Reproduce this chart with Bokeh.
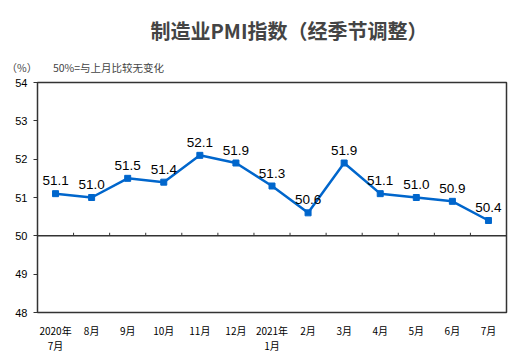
import numpy as np
from bokeh.plotting import figure
from bokeh.models import (ColumnDataSource, FixedTicker, Span, Title, Range1d)
from bokeh.embed import file_html
from bokeh.resources import INLINE
from bokeh.core.properties import value

months = ["2020年\n7月", "8月", "9月", "10月", "11月", "12月", "2021年\n1月",
          "2月", "3月", "4月", "5月", "6月", "7月"]
pmi = [51.1, 51.0, 51.5, 51.4, 52.1, 51.9, 51.3, 50.6, 51.9, 51.1, 51.0, 50.9, 50.4]
y_ticks = [48, 49, 50, 51, 52, 53, 54]

n = len(months)
xs = list(np.arange(n) + 0.5)
labels = [f"{v:.1f}" for v in pmi]
src = ColumnDataSource(dict(x=xs, y=pmi, lab=labels))

p = figure(frame_width=469, frame_height=230, output_backend="svg", toolbar_location=None,
           x_range=Range1d(0, n), y_range=Range1d(48, 54),
           min_border_left=37, min_border_right=6, min_border_top=82,
           min_border_bottom=10)
p.outline_line_color = "#333333"
p.outline_line_width = 1.5
p.grid.visible = False
p.background_fill_color = "white"
p.border_fill_color = "white"

# y axis
p.yaxis.ticker = FixedTicker(ticks=y_ticks)
p.yaxis.major_tick_out = 4
p.yaxis.major_tick_in = 0
p.yaxis.minor_tick_line_color = None
p.yaxis.axis_line_color = None
p.yaxis.major_tick_line_color = "#333333"
p.yaxis.major_label_text_font = "Liberation Sans"
p.yaxis.major_label_text_font_size = "11px"
p.yaxis.major_label_text_color = "black"
p.yaxis.major_label_standoff = 6

# x axis
p.xaxis.ticker = FixedTicker(ticks=xs)
p.xaxis.major_label_overrides = {x: m for x, m in zip(xs, months)}
p.xaxis.major_tick_line_color = None
p.xaxis.minor_tick_line_color = None
p.xaxis.axis_line_color = None
p.xaxis.major_label_text_font = "Noto Sans CJK SC"
p.xaxis.major_label_text_font_size = "10px"
p.xaxis.major_label_text_color = "black"
p.xaxis.major_label_text_line_height = 1.0
p.xaxis.major_label_standoff = 4

# 50 line with boundary ticks
p.add_layout(Span(location=50, dimension="width", line_color="#333333", line_width=1.5))
bounds = list(np.arange(1, n))
p.segment(x0=bounds, y0=[50] * len(bounds), x1=bounds, y1=[50.08] * len(bounds),
          line_color="#333333", line_width=1)

color = "#0066CC"
p.line("x", "y", source=src, line_color=color, line_width=2.5)
p.scatter("x", "y", source=src, marker="square", size=6, fill_color=color, line_color=color)
p.text("x", "y", text="lab", source=src, text_align="center", text_baseline="alphabetic",
       y_offset=-13, text_font=value("Liberation Sans"), text_font_size="13.5px",
       text_color="black")

sub = Title(text="（%）\u3000\u300050%=与上月比较无变化", align="left", offset=-31,
            text_font="Noto Sans CJK SC", text_font_size="10.5px", text_font_style="normal",
            standoff=15)
p.add_layout(sub, "above")
main = Title(text="制造业PMI指数（经季节调整）", align="left", offset=113,
             text_font="Noto Sans CJK SC", text_font_size="20px", text_font_style="bold",
             standoff=12)
p.add_layout(main, "above")

open("out.html", "w").write(file_html(p, INLINE))
